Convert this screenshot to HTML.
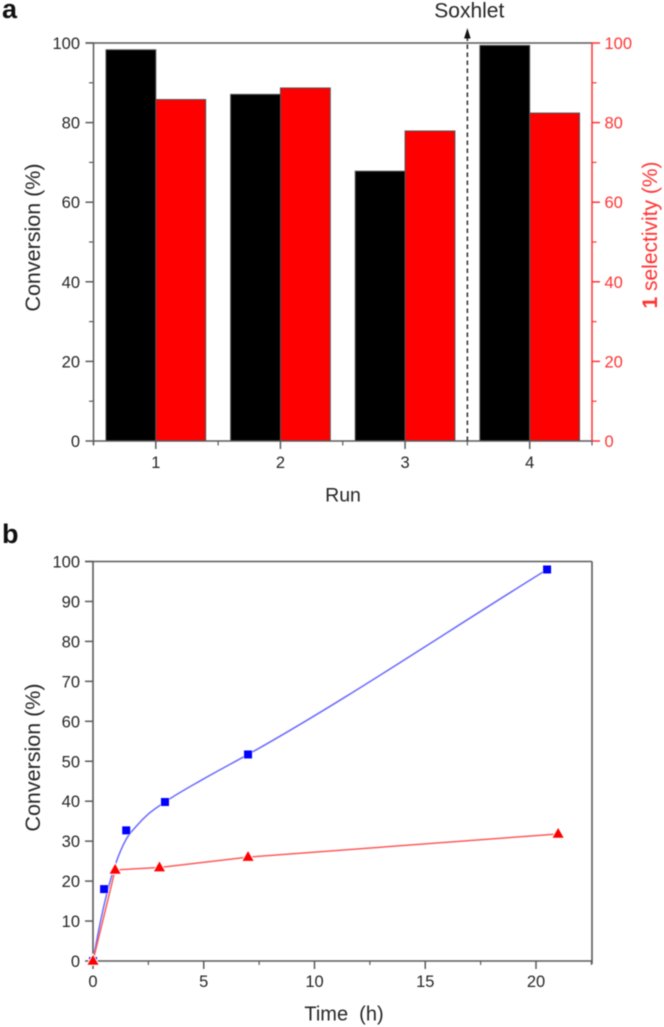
<!DOCTYPE html>
<html lang="en">
<head>
<meta charset="utf-8">
<title>Conversion and selectivity charts</title>
<style>
html,body{margin:0;padding:0;background:#fff;width:664px;height:1027px;overflow:hidden}
svg{display:block;font-family:"Liberation Sans",Arial,sans-serif}
#art{filter:blur(0.5px)}
</style>
</head>
<body>
<svg id="chart" xmlns="http://www.w3.org/2000/svg" width="664" height="1027" viewBox="0 0 664 1027">
  <g id="art"></g>
</svg>
<script>
// Panel a data
const runs = [1, 2, 3, 4];
const conversionByRun = [98.3, 87.1, 67.8, 99.4];
const selectivityByRun = [85.8, 88.7, 77.9, 82.4];
const runAxisLabels = ['1', '2', '3', '4'];
const percentTicksA = [0, 20, 40, 60, 80, 100];
const percentMinorA = [10, 30, 50, 70, 90];
const runMinorTicks = [0.5, 1.5, 2.5, 3.5, 4.5];
const soxhletRun = [3.5];

// Panel b data
const squareTime = [0, 0.5, 1.5, 3.25, 7, 20.5];
const squareConv = [0, 18, 32.7, 39.8, 51.7, 98];
const fitTime = [0, 0.25, 0.5, 0.75, 1, 1.5, 2, 2.5, 3.25, 5, 7, 20.5];
const fitConv = [0, 7.5, 14, 19.5, 24, 30.5, 34, 36.8, 39.8, 45.6, 51.7, 98];
const triangleTime = [0, 1, 3, 7, 21];
const triangleConv = [0, 22.8, 23.4, 26, 31.8];
const timeTicks = [0, 5, 10, 15, 20];
const timeMinor = [2.5, 7.5, 12.5, 17.5, 22.5];
const percentTicksB = [0, 10, 20, 30, 40, 50, 60, 70, 80, 90, 100];

const NS = 'http://www.w3.org/2000/svg';
const art = document.getElementById('art');
const AXIS = '#5a5a5a', TEXT = '#262626', RED = '#ff0000', REDSOFT = '#ff3333', BLUE = '#0000ff';

function make(tag, attrs, text) {
  const el = document.createElementNS(NS, tag);
  for (const k in attrs) el.setAttribute(k, attrs[k]);
  if (text !== undefined) el.textContent = text;
  art.appendChild(el);
  return el;
}
function seg(x1, y1, x2, y2, color, w) {
  return make('line', { x1, y1, x2, y2, stroke: color, 'stroke-width': w });
}
function label(x, y, str, size, color, anchor, weight) {
  return make('text', { x, y, 'font-size': size, fill: color, 'text-anchor': anchor || 'middle', 'font-weight': weight || 'normal' }, str);
}
function vlabel(x, y, str, size, color) {
  return make('text', { x, y, 'font-size': size, fill: color, 'text-anchor': 'middle', transform: 'rotate(-90 ' + x + ' ' + y + ')' }, str);
}

// ---- Panel a ----
const ax = { left: 93.5, right: 592, top: 43, bottom: 441, xMin: 0.5, xMax: 4.5, yMax: 100 };
const xA = v => ax.left + (v - ax.xMin) / (ax.xMax - ax.xMin) * (ax.right - ax.left);
const yA = v => ax.bottom - v / ax.yMax * (ax.bottom - ax.top);
const barW = 0.4;

runs.forEach((r, i) => {
  const bk = make('rect', { x: xA(r - barW), y: yA(conversionByRun[i]), width: xA(r) - xA(r - barW), height: yA(0) - yA(conversionByRun[i]), fill: '#000', stroke: '#555', 'stroke-width': 1 });
  
  
  const rd = make('rect', { x: xA(r), y: yA(selectivityByRun[i]), width: xA(r + barW) - xA(r), height: yA(0) - yA(selectivityByRun[i]), fill: RED, stroke: '#555', 'stroke-width': 1 });
  
  
});

const aLeft = seg(ax.left, ax.top, ax.left, ax.bottom + 4, AXIS, 1.5);


const aTop = seg(ax.left - 8, ax.top, ax.right, ax.top, AXIS, 1.5);


const aBottom = seg(ax.left, ax.bottom, ax.right, ax.bottom, AXIS, 1.5);


const aRight = seg(ax.right, ax.top, ax.right, ax.bottom, REDSOFT, 1.5);



percentTicksA.forEach(v => {
  const t = seg(ax.left - 8, yA(v), ax.left, yA(v), AXIS, 1.5);
  
  
  const l = label(80, yA(v) + 6, String(v), 16.5, TEXT, 'end');
  
  
  const rt = seg(ax.right, yA(v), ax.right + 8, yA(v), REDSOFT, 1.5);
  
  
  const rl = label(604.5, yA(v) + 6, String(v), 16.5, REDSOFT, 'start');
  
  
});
percentMinorA.forEach(v => {
  const t = seg(ax.left - 4.5, yA(v), ax.left, yA(v), AXIS, 1.2);
  
  
  const rt = seg(ax.right, yA(v), ax.right + 4.5, yA(v), REDSOFT, 1.2);
  
  
});
runs.forEach((r, i) => {
  const t = seg(xA(r), ax.bottom, xA(r), ax.bottom + 8, AXIS, 1.5);
  
  
  const l = label(xA(r), 468, runAxisLabels[i], 16.5, TEXT);
  
  
});
runMinorTicks.forEach(v => {
  const t = seg(xA(v), ax.bottom, xA(v), ax.bottom + 4.5, AXIS, 1.2);
  
  
});

const arrowX = xA(soxhletRun[0]);
const arrowLine = make('line', { x1: arrowX, y1: ax.bottom, x2: arrowX, y2: 37, stroke: '#333', 'stroke-width': 1.6, 'stroke-dasharray': '4.5 3.5' });


const arrowHead = make('polygon', { points: [arrowX, 28, arrowX - 3.3, 38.5, arrowX + 3.3, 38.5].join(' '), fill: '#111' });


const soxText = label(469.3, 17.5, 'Soxhlet', 21, TEXT);



const panelA = label(2, 18, 'a', 27, '#111', 'start', 'bold');


const aYTitle = vlabel(40, 237.5, 'Conversion (%)', 21.5, TEXT);


const aXTitle = label(343, 501.5, 'Run', 19.5, TEXT);



const rTitle = vlabel(657, 235, '', 21, REDSOFT);


const rOne = document.createElementNS(NS, 'tspan');
rOne.setAttribute('font-weight', 'bold');
rOne.textContent = '1';
rTitle.appendChild(rOne);
rTitle.appendChild(document.createTextNode(' selectivity (%)'));

// ---- Panel b ----
const bx = { left: 93, right: 592, top: 561.5, bottom: 961, xPerUnit: 22.15, yMax: 100 };
const xB = v => bx.left + v * bx.xPerUnit;
const yB = v => bx.bottom - v / bx.yMax * (bx.bottom - bx.top);

const bLeft = seg(bx.left, bx.top, bx.left, bx.bottom, AXIS, 1.6);


const bTop = seg(bx.left - 8, bx.top, bx.right, bx.top, AXIS, 1.6);


const bRight = seg(bx.right, bx.top, bx.right, bx.bottom + 3, AXIS, 1.6);


const bBottom = seg(bx.left, bx.bottom, bx.right, bx.bottom, AXIS, 1.6);



percentTicksB.forEach(v => {
  const t = seg(bx.left - 8, yB(v), bx.left, yB(v), AXIS, 1.5);
  
  
  const l = label(80, yB(v) + 6, String(v), 16.5, TEXT, 'end');
  
  
});
timeTicks.forEach(v => {
  const t = seg(xB(v), bx.bottom, xB(v), bx.bottom + 8, AXIS, 1.5);
  
  
  const l = label(xB(v), 987, String(v), 16.5, TEXT);
  
  
});
timeMinor.forEach(v => {
  const t = seg(xB(v), bx.bottom, xB(v), bx.bottom + 4, AXIS, 1.2);
  
  
});

// smooth blue fit through the fit arrays (non-uniform Hermite tangents)
function smoothPath(xs, ys) {
  const pts = xs.map((x, i) => [xB(x), yB(ys[i])]);
  const n = pts.length;
  const slope = (a, b) => (b[1] - a[1]) / (b[0] - a[0]);
  const m = pts.map((p, i) => {
    if (i === 0) return slope(pts[0], pts[1]);
    if (i === n - 1) return slope(pts[n - 2], pts[n - 1]);
    const h0 = p[0] - pts[i - 1][0], h1 = pts[i + 1][0] - p[0];
    return (slope(pts[i - 1], p) * h1 + slope(p, pts[i + 1]) * h0) / (h0 + h1);
  });
  let d = 'M' + pts[0][0] + ' ' + pts[0][1];
  for (let i = 0; i < n - 1; i++) {
    const h = (pts[i + 1][0] - pts[i][0]) / 3;
    d += ' C' + (pts[i][0] + h) + ' ' + (pts[i][1] + m[i] * h) + ' ' + (pts[i + 1][0] - h) + ' ' + (pts[i + 1][1] - m[i + 1] * h) + ' ' + pts[i + 1][0] + ' ' + pts[i + 1][1];
  }
  return d;
}
const blueLine = make('path', { d: smoothPath(fitTime, fitConv), fill: 'none', stroke: '#6a6aff', 'stroke-width': 1.5 });


const redLine = make('polyline', { points: triangleTime.map((t, i) => xB(t) + ',' + yB(triangleConv[i])).join(' '), fill: 'none', stroke: '#ff5a5a', 'stroke-width': 1.5 });



squareTime.forEach((t, i) => {
  const s = make('rect', { x: xB(t) - 4, y: yB(squareConv[i]) - 4, width: 8, height: 8, fill: BLUE, stroke: '#fff', 'stroke-width': 1, 'paint-order': 'stroke' });
  
  
});
triangleTime.forEach((t, i) => {
  const cx = xB(t), cy = yB(triangleConv[i]);
  const tri = make('polygon', { points: [cx, cy - 6, cx - 5.5, cy + 3.8, cx + 5.5, cy + 3.8].join(' '), fill: RED, stroke: '#fff', 'stroke-width': 2, 'paint-order': 'stroke' });
  
  
});

const panelB = label(2, 543, 'b', 27, '#111', 'start', 'bold');


const bYTitle = vlabel(40, 757.5, 'Conversion (%)', 21.5, TEXT);


const bXTitle = label(344, 1020.5, 'Time\u00A0\u00A0(h)', 20, TEXT);


</script>
</body>
</html>
